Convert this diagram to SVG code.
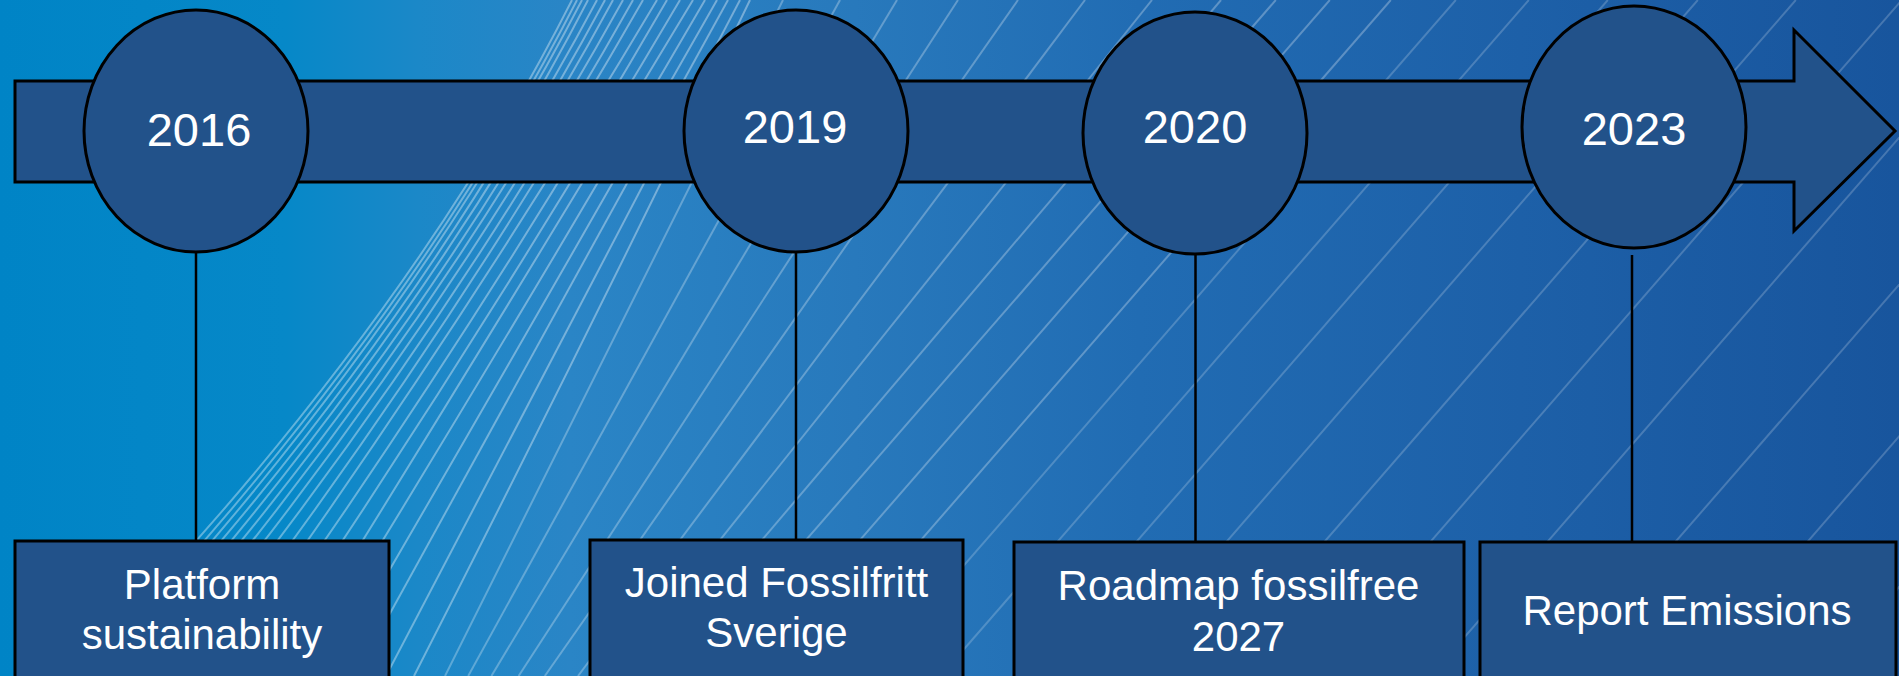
<svg xmlns="http://www.w3.org/2000/svg" width="1899" height="676" viewBox="0 0 1899 676">
<defs>
<linearGradient id="bg" x1="0" y1="0" x2="1899" y2="0" gradientUnits="userSpaceOnUse">
<stop offset="0" stop-color="#0084c6"/>
<stop offset="0.15" stop-color="#0688c8"/>
<stop offset="0.22" stop-color="#1b88c8"/>
<stop offset="0.3" stop-color="#2a85c6"/>
<stop offset="0.45" stop-color="#2879bc"/>
<stop offset="0.6" stop-color="#216cb3"/>
<stop offset="0.8" stop-color="#1d60a8"/>
<stop offset="1" stop-color="#18559d"/>
</linearGradient>
<style>
.node{fill:#22528a;stroke:#000;stroke-width:3}
.lbl{font-family:"Liberation Sans",Arial,sans-serif;fill:#fff;text-anchor:middle}
.yr{font-size:47px}
.bx{font-size:42px}
.conn{stroke:#000;stroke-width:2.5;fill:none}
.sw{fill:none;stroke:#ffffff;stroke-width:2}
</style>
</defs>
<rect x="0" y="0" width="1899" height="676" fill="url(#bg)"/>
<g id="background-lines" class="sw">
<g stroke-opacity="0.36">
<path d="M572,0 Q401.1,338 70.4,676"/>
<path d="M577,0 Q404.1,338 81.2,676"/>
<path d="M582,0 Q407,338 91.8,676"/>
<path d="M588,0 Q413.5,338 102.3,676"/>
<path d="M597,0 Q416.8,338 115.7,676"/>
<path d="M605,0 Q423.5,338 127.7,676"/>
<path d="M613,0 Q429.5,338 141.3,676"/>
<path d="M623,0 Q435.6,338 156.4,676"/>
<path d="M633,0 Q443.6,338 172.1,676"/>
<path d="M643,0 Q450.2,338 191.6,676"/>
<path d="M657,0 Q456,338 211.4,676"/>
<path d="M667,0 Q471.3,338 229.7,676"/>
<path d="M680,0 Q481,338 252.2,676"/>
<path d="M693,0 Q489.2,338 278.5,676"/>
<path d="M705,0 Q508.4,338 299.4,676"/>
<path d="M717,0 Q524.8,338 327.9,676"/>
<path d="M728,0 Q540.3,338 355.5,676"/>
<path d="M740,0 Q562.2,338 386,676"/>
<path d="M750,0 Q586.5,338 414,676"/>
</g>
<g stroke-opacity="0.28">
<path d="M783,0 L445,676"/>
<path d="M840,0 L468.2,676"/>
<path d="M897,0 L491.4,676"/>
<path d="M958,0 L518.6,676"/>
<path d="M1018,0 L544.8,676"/>
<path d="M1085,0 L578,676"/>
<path d="M1152,0 L611.2,676"/>
<path d="M1221,0 L646.4,676"/>
<path d="M1275.8,0 L687.7,676"/>
<path d="M1329.8,0 L741.7,676"/>
<path d="M1390.8,0 L802.7,676"/>
</g>
<g stroke-opacity="0.2">
<path d="M1455.8,0 L867.7,676"/>
<path d="M1528.8,0 L940.7,676"/>
<path d="M1607.8,0 L1019.7,676"/>
<path d="M1697.8,0 L1109.7,676"/>
<path d="M1795.8,0 L1207.7,676"/>
<path d="M1901.8,0 L1313.7,676"/>
<path d="M2018.8,0 L1430.7,676"/>
<path d="M2146.8,0 L1558.7,676"/>
<path d="M2278.8,0 L1690.7,676"/>
<path d="M2409.8,0 L1821.7,676"/>
<path d="M2544.8,0 L1956.7,676"/>
</g>
</g>
<g id="timeline-arrow">
<path class="node" d="M15,81 L1794,81 L1794,30 L1895,131 L1794,231 L1794,182 L15,182 Z"/>
</g>
<g id="connectors">
<line class="conn" x1="196" y1="252" x2="196" y2="541"/>
<line class="conn" x1="796" y1="252" x2="796" y2="540"/>
<line class="conn" x1="1195.5" y1="250" x2="1195.5" y2="542"/>
<line class="conn" x1="1632" y1="255" x2="1632" y2="542"/>
</g>
<g id="node-2016">
<ellipse class="node" cx="196" cy="131" rx="112" ry="121"/>
<text class="lbl yr" x="199" y="146">2016</text>
</g>
<g id="node-2019">
<ellipse class="node" cx="796" cy="131" rx="112" ry="121"/>
<text class="lbl yr" x="795" y="143">2019</text>
</g>
<g id="node-2020">
<ellipse class="node" cx="1195" cy="133" rx="112" ry="121"/>
<text class="lbl yr" x="1195" y="143">2020</text>
</g>
<g id="node-2023">
<ellipse class="node" cx="1634" cy="127" rx="112" ry="121"/>
<text class="lbl yr" x="1634" y="145">2023</text>
</g>
<g id="box-platform">
<rect class="node" x="15" y="541" width="374" height="150"/>
<text class="lbl bx" x="202" y="599">Platform</text>
<text class="lbl bx" x="202" y="649">sustainability</text>
</g>
<g id="box-fossilfritt">
<rect class="node" x="590" y="540" width="373" height="150"/>
<text class="lbl bx" x="776.5" y="597">Joined Fossilfritt</text>
<text class="lbl bx" x="776.5" y="647">Sverige</text>
</g>
<g id="box-roadmap">
<rect class="node" x="1014" y="542" width="450" height="150"/>
<text class="lbl bx" x="1238.5" y="600">Roadmap fossilfree</text>
<text class="lbl bx" x="1238.5" y="651">2027</text>
</g>
<g id="box-report">
<rect class="node" x="1480" y="542" width="416" height="150"/>
<text class="lbl bx" x="1687" y="625">Report Emissions</text>
</g>
</svg>
